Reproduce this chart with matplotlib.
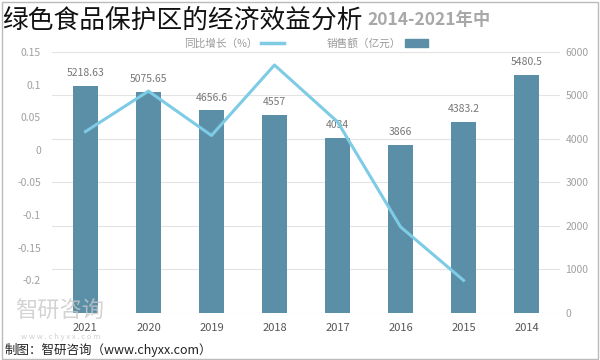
import matplotlib.pyplot as plt
import matplotlib.patches as mpatches
from matplotlib.lines import Line2D
import numpy as np

plt.rcParams['font.family'] = ['Noto Sans CJK SC', 'DejaVu Sans']

# chart appears mirrored: 2021 on the left, 2014 on the right
years = ['2021', '2020', '2019', '2018', '2017', '2016', '2015', '2014']
sales = [5218.63, 5075.65, 4656.6, 4557, 4034, 3866, 4383.2, 5480.5]
sales_lbl = ['5218.63', '5075.65', '4656.6', '4557', '4034', '3866', '4383.2', '5480.5']
growth = [0.028, 0.09, 0.022, 0.13, 0.043, -0.118, -0.2]   # 2014 has none
left_ticks = [0.15, 0.1, 0.05, 0, -0.05, -0.1, -0.15, -0.2]
left_lbl = ['0.15', '0.1', '0.05', '0', '-0.05', '-0.1', '-0.15', '-0.2']
right_ticks = [0, 1000, 2000, 3000, 4000, 5000, 6000]

bar_c = '#5a8fa7'
line_c = '#7dcbe4'
grey = '#a0a0a0'

fig = plt.figure(figsize=(6, 3.6), dpi=100)
ax = fig.add_axes([0.0867, 0.1306, 0.8466, 0.725])   # sales (right axis)
ax2 = ax.twinx()

x = np.arange(len(years))
ax.bar(x, sales, width=0.39, color=bar_c, zorder=2)
for xi, v, s in zip(x, sales, sales_lbl):
    ax.text(xi, v + 180, s, ha='center', va='bottom', fontsize=7.5, color='#777777')

ax.set_ylim(0, 6000)
ax.set_xlim(-0.53, 7.53)
ax.yaxis.tick_right()
ax.set_yticks(right_ticks)
ax.set_yticklabels([str(t) for t in right_ticks])
ax.set_xticks(x)
ax.set_xticklabels(years, fontsize=8, color='#555555')
ax.grid(axis='y', color='#e3e3e3', lw=0.8, zorder=0)
ax.tick_params(axis='y', length=0, labelsize=7.5, labelcolor=grey, pad=4)
ax.tick_params(axis='x', length=0, pad=7)
for s in ax.spines.values():
    s.set_visible(False)

ax2.plot(x[:len(growth)], growth, color=line_c, lw=2.2, zorder=3)
ax2.set_ylim(-0.25, 0.15)
ax2.yaxis.tick_left()
ax2.set_yticks(left_ticks)
ax2.set_yticklabels(left_lbl)
ax2.tick_params(axis='y', length=0, labelsize=7.5, labelcolor=grey, pad=8)
for s in ax2.spines.values():
    s.set_visible(False)

# legend, handles after text like in the picture
h1 = Line2D([0], [0], color=line_c, lw=2.5)
h2 = mpatches.Patch(color=bar_c)
fig.legend([h1, h2], ['同比增长（%）', '销售额（亿元）'], loc='center',
           bbox_to_anchor=(0.51, 0.88), ncol=2, frameon=False, fontsize=7.7,
           markerfirst=False, labelcolor='#9a9a9a', handlelength=2.2,
           columnspacing=4, handletextpad=0.3)

# original chart title, only its visible part beside the overlay title
fig.text(0.613, 0.945, '2014-2021年中', ha='left', va='center',
         fontsize=12.5, fontweight='bold', color='#a8a8a8')
fig.text(0.004, 0.943, '绿色食品保护区的经济效益分析', ha='left', va='center',
         fontsize=18.5, color='#111111')

# watermark and source
fig.text(0.025, 0.135, '智研咨询', fontsize=16, color='#c8c8c8', alpha=0.8, va='center')
fig.text(0.035, 0.063, 'w w w . c h y x x . c o m', fontsize=5.5, color='#d0d0d0', va='center')
fig.text(0.008, 0.028, '制图：智研咨询（www.chyxx.com）', fontsize=9, color='#222222', va='center')

fig.patches.append(mpatches.Rectangle((0.003, 0.004), 0.993, 0.99, transform=fig.transFigure,
                                      fill=False, ec='#bbbbbb', lw=1))

plt.savefig('out.png', dpi=100)
